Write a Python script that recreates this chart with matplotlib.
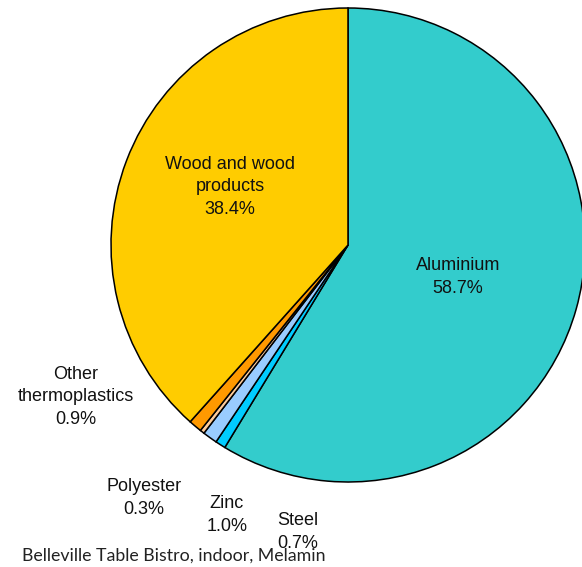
import matplotlib
matplotlib.use("Agg")
import matplotlib.pyplot as plt

categories = ["Aluminium", "Steel", "Zinc", "Polyester", "Other\nthermoplastics", "Wood and wood\nproducts"]
values = [58.7, 0.7, 1.0, 0.3, 0.9, 38.4]
colors = ["#33CCCC", "#00CCFF", "#99CCFF", "#FFCC99", "#FF9900", "#FFCC00"]
title = "Belleville Table Bistro, indoor, Melamin"

# label positions in data units (pie radius = 1)
label_pos = [(0.464, -0.135), (-0.211, -1.211), (-0.511, -1.139),
             (-0.861, -1.068), (-1.148, -0.641), (-0.498, 0.245)]

W, H = 582, 567
fig = plt.figure(figsize=(W / 100, H / 100), dpi=100)
R = 237
cx, cy = 348, 245
ax = fig.add_axes([(cx - R) / W, (H - cy - R) / H, 2 * R / W, 2 * R / H])

wedges, _ = ax.pie(values, colors=colors, startangle=90, counterclock=False,
                   radius=1, wedgeprops=dict(edgecolor="black", linewidth=1.1))
for w in wedges:
    w.set_clip_on(False)
ax.set_xlim(-1, 1)
ax.set_ylim(-1, 1)
ax.set_aspect("equal")
ax.axis("off")

for cat, v, (x, y) in zip(categories, values, label_pos):
    ax.text(x, y, f"{cat}\n{v:.1f}%", ha="center", va="center",
            fontsize=13, family="Liberation Sans", color="#111111",
            linespacing=1.45, clip_on=False)

fig.text(22 / W, 1 - 556 / H, title, ha="left", va="center",
         fontsize=12.8, family="Lato", weight="normal", color="#222222")

fig.savefig("out.png", dpi=100)
